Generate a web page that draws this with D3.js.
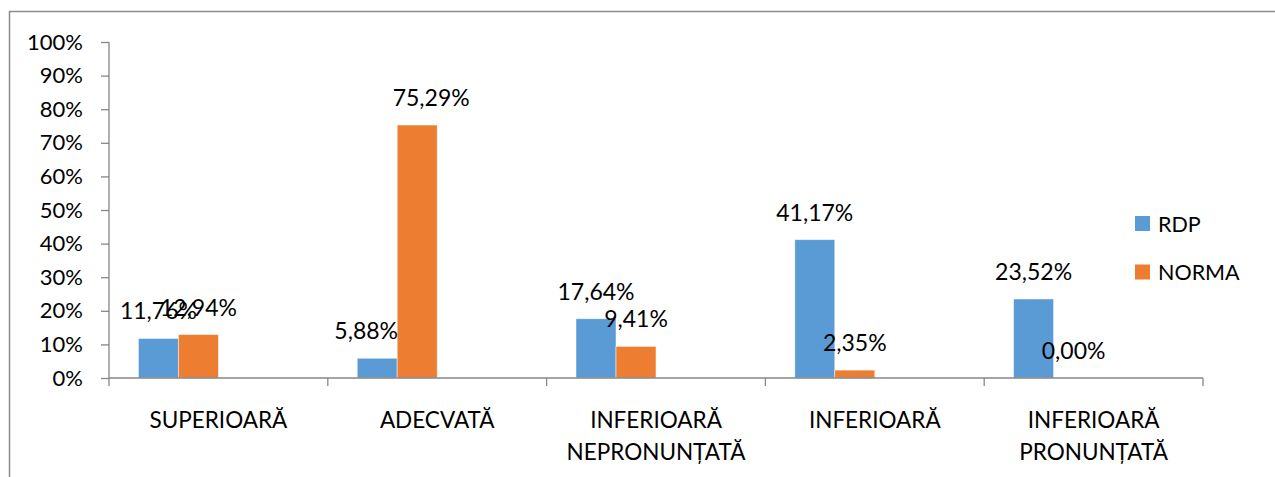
<!DOCTYPE html>
<html>
<head>
<meta charset="utf-8">
<script src="https://cdn.jsdelivr.net/npm/d3@7"></script>
<style>
  body { margin: 0; background: #fff; }
  svg { display: block; font-family: Lato, "Open Sans", sans-serif; }
</style>
</head>
<body>
<svg width="1275" height="477"></svg>
<script>
// Data
var categories = ["SUPERIOARĂ", "ADECVATĂ", "INFERIOARĂ\nNEPRONUNȚATĂ", "INFERIOARĂ", "INFERIOARĂ\nPRONUNȚATĂ"];
var seriesNames = ["RDP", "NORMA"];
var rdpValues = [11.76, 5.88, 17.64, 41.17, 23.52];
var normaValues = [12.94, 75.29, 9.41, 2.35, 0.00];
var yTickValues = [0, 10, 20, 30, 40, 50, 60, 70, 80, 90, 100];

var colors = { "RDP": "#5B9BD5", "NORMA": "#ED7D31" };
// manually moved data labels (px)
var labelShift = { "RDP-1": -11, "NORMA-1": 14 };

var svg = d3.select("svg");

// chart frame
svg.append("rect")
    .attr("x", 9.5).attr("y", 11.5)
    .attr("width", 1300).attr("height", 500)
    .attr("fill", "none").attr("stroke", "#8c8c8c").attr("stroke-width", 1.5);

var plotLeft = 109, plotRight = 1203, plotTop = 42, plotBottom = 378;

var x0 = d3.scaleBand().domain(d3.range(categories.length)).range([plotLeft, plotRight]).padding(0);
// 4 slots per category, only 2 series are filled
var x1 = d3.scaleBand().domain(d3.range(4)).range([0, x0.bandwidth()]).paddingInner(0).paddingOuter(0.735);
var y = d3.scaleLinear().domain([0, 100]).range([plotBottom, plotTop]);

var rows = [];
categories.forEach(function(c, i) {
    rows.push({ s: "RDP", k: 0, i: i, v: rdpValues[i] });
    rows.push({ s: "NORMA", k: 1, i: i, v: normaValues[i] });
});

// y axis
var yAxis = svg.append("g")
    .attr("transform", "translate(" + plotLeft + ",0)")
    .call(d3.axisLeft(y).tickValues(yTickValues).tickSize(8).tickPadding(18)
        .tickFormat(function(d) { return d + "%"; }));
yAxis.selectAll("line, path").attr("stroke", "#868686").attr("stroke-width", 1.3);
yAxis.select("path").attr("d", "M0," + plotTop + "V" + plotBottom);
yAxis.selectAll("text").attr("font-size", 22).attr("fill", "#000").attr("font-family", "Lato");

// bars
svg.selectAll("rect.bar").data(rows).enter().append("rect")
    .attr("class", "bar")
    .attr("x", function(d) { return x0(d.i) + x1(d.k); })
    .attr("y", function(d) { return y(d.v); })
    .attr("width", x1.bandwidth())
    .attr("height", function(d) { return plotBottom - y(d.v); })
    .attr("fill", function(d) { return colors[d.s]; })
    .attr("stroke", "#fff").attr("stroke-opacity", 0.6).attr("stroke-width", 0.8);

// x axis
var xAxis = svg.append("g")
    .attr("transform", "translate(0," + plotBottom + ")");
xAxis.append("path")
    .attr("d", "M" + plotLeft + ",0H" + plotRight)
    .attr("stroke", "#868686").attr("stroke-width", 1.3).attr("fill", "none");
xAxis.selectAll("line").data(d3.range(categories.length + 1)).enter().append("line")
    .attr("x1", function(d) { return plotLeft + d * x0.step(); })
    .attr("x2", function(d) { return plotLeft + d * x0.step(); })
    .attr("y1", 0).attr("y2", 8)
    .attr("stroke", "#868686").attr("stroke-width", 1.3);

var catText = svg.selectAll("text.cat").data(categories).enter().append("text")
    .attr("class", "cat")
    .attr("x", function(d, i) { return x0(i) + x0.bandwidth() / 2; })
    .attr("y", 428)
    .attr("text-anchor", "middle")
    .attr("font-size", 22.5);
catText.selectAll("tspan").data(function(d) { return d.split("\n"); }).enter().append("tspan")
    .attr("x", function() { return d3.select(this.parentNode).attr("x"); })
    .attr("dy", function(d, i) { return i ? 32 : 0; })
    .text(function(d) { return d; });

// data labels
svg.selectAll("text.lbl").data(rows).enter().append("text")
    .attr("class", "lbl")
    .attr("x", function(d) {
        return x0(d.i) + x1(d.k) + x1.bandwidth() / 2 + (labelShift[d.s + "-" + d.i] || 0);
    })
    .attr("y", function(d) { return y(d.v) - 19; })
    .attr("text-anchor", "middle")
    .attr("font-size", 23)
    .text(function(d) { return d.v.toFixed(2).replace(".", ",") + "%"; });

// legend
var legend = svg.selectAll("g.leg").data(seriesNames).enter().append("g")
    .attr("class", "leg")
    .attr("transform", function(d, i) { return "translate(1135," + (216 + i * 48.5) + ")"; });
legend.append("rect").attr("width", 15).attr("height", 15)
    .attr("fill", function(d) { return colors[d]; });
legend.append("text").attr("x", 23).attr("y", 15.5)
    .attr("font-size", 21.5)
    .text(function(d) { return d; });
</script>
</body>
</html>
